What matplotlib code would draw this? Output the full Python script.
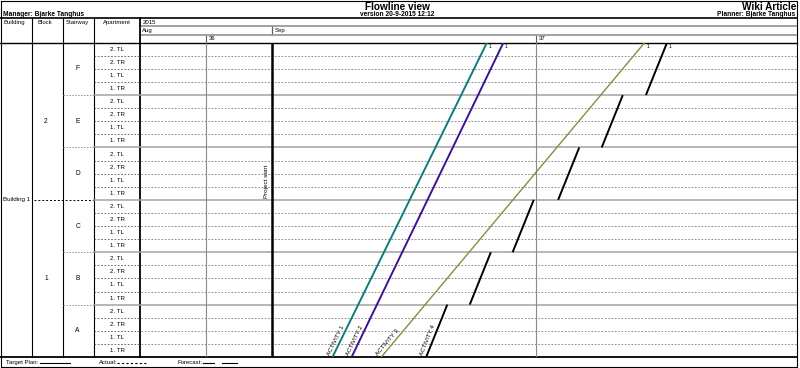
import matplotlib.pyplot as plt
import numpy as np

plt.rcParams['font.family'] = ['Liberation Sans', 'DejaVu Sans']

W, H = 800, 368

title = 'Flowline view'
version = 'version 20-9-2015 12:12'
project = 'Wiki Article'
manager = 'Manager: Bjarke Tanghus'
planner = 'Planner: Bjarke Tanghus'
columns = ['Building', 'Block', 'Stairway', 'Apartment']

building = 'Building 1'
blocks = ['1', '2']
stairways = ['A', 'B', 'C', 'D', 'E', 'F']
apartments = ['1. TR', '1. TL', '2. TR', '2. TL']  # bottom to top in a stairway

# time axis in working days, day 0 = Fri 28 Aug 2015
year_label = '2015'
months = ['Aug', 'Sep']
month_start = [0, 2]
weeks = ['36', '37']
week_start = [1, 6]
project_start = 2
n_days = 9.95

activities = ['ACTIVITY 1', 'ACTIVITY 2', 'ACTIVITY 3']
act_start = [2.91, 3.20, 3.65]
act_end = [5.25, 5.50, 7.64]
act_colors = ['#137a7c', '#3b1490', '#8b8b40']
act_widths = [1.4, 1.4, 1.0]

# activity 4 is done one stairway at a time
act4_name = 'ACTIVITY 4'
act4_start = [4.33, 4.99, 5.64, 6.33, 6.99, 7.66]
act4_length = 0.32

n_apt = len(apartments)
n_rows = len(stairways) * n_apt

# layout in pixels
body_top, body_bot = 42.7, 357.0
chart_left, chart_right = 140.5, 797.0
col_x = [31.7, 62.7, 93.7]

fig = plt.figure(figsize=(W / 100, H / 100), dpi=100)

frame = fig.add_axes([0, 0, 1, 1])
frame.set_xlim(0, W)
frame.set_ylim(H, 0)
frame.axis('off')

body_h = (body_bot - body_top) / H
ax = fig.add_axes([chart_left / W, (H - body_bot) / H,
                   (chart_right - chart_left) / W, body_h])
ax.patch.set_alpha(0)
tab = fig.add_axes([0, (H - body_bot) / H, chart_left / W, body_h], sharey=ax)
tab.patch.set_alpha(0)
hdr = fig.add_axes([chart_left / W, (H - body_top) / H,
                    (chart_right - chart_left) / W, (body_top - 18.3) / H],
                   sharex=ax)
hdr.patch.set_alpha(0)

# ---- chart body ----
ax.set_xlim(0, n_days)
ax.set_ylim(0, n_rows)
ax.axis('off')
for r in range(1, n_rows):
    if r % n_apt == 0:
        ax.axhline(r, color='#a3a3a3', lw=1.1)
    else:
        ax.axhline(r, color='#7a7a7a', lw=0.6, ls=(0, (2, 2)))
for d in week_start:
    ax.axvline(d, color='#8a8a8a', lw=0.8)
ax.axvline(project_start, color='black', lw=1.8)
ax.text(project_start - 0.06, 13.4, 'Project start', rotation=90,
        ha='right', va='center', fontsize=4.5)


def line_label(name, x0, x1, y0, y1):
    p0 = ax.transData.transform((x0, y0))
    p1 = ax.transData.transform((x1, y1))
    ang = np.degrees(np.arctan2(p1[1] - p0[1], p1[0] - p0[0]))
    ax.annotate(name, xy=(x0, y0), xytext=(-1.5, 0.5), textcoords='offset points',
                rotation=ang, rotation_mode='anchor', ha='left', va='bottom',
                fontsize=4.4)


for name, s, e, c, lw in zip(activities, act_start, act_end, act_colors, act_widths):
    ax.plot([s, e], [0, n_rows], color=c, lw=lw, solid_capstyle='butt')
    line_label(name, s, e, 0, n_rows)
    ax.annotate('1', xy=(e, n_rows), xytext=(1.2, -1), textcoords='offset points',
                ha='left', va='top', fontsize=3.5)

for k, s in enumerate(act4_start):
    ax.plot([s, s + act4_length], [k * n_apt, (k + 1) * n_apt], color='black',
            lw=1.4, solid_capstyle='butt')
line_label(act4_name, act4_start[0], act4_start[0] + act4_length, 0, n_apt)
ax.annotate('1', xy=(act4_start[-1] + act4_length, n_rows), xytext=(1.2, -1),
            textcoords='offset points', ha='left', va='top', fontsize=3.5)

# ---- left table ----
tab.set_xlim(0, chart_left)
tab.axis('off')
for r in range(1, n_rows):
    if r % (n_apt * 3) == 0:
        tab.plot([34, col_x[2]], [r, r], color='black', lw=0.7, ls=(0, (2, 2)))
        tab.plot([col_x[2], chart_left], [r, r], color='#a3a3a3', lw=1.1)
    elif r % n_apt == 0:
        tab.plot([col_x[1], col_x[2]], [r, r], color='#909090', lw=0.7,
                 ls=(0, (1.5, 1.5)))
        tab.plot([col_x[2], chart_left], [r, r], color='#a3a3a3', lw=1.1)
    else:
        tab.plot([col_x[2], chart_left], [r, r], color='#555555', lw=0.6,
                 ls=(0, (2, 2)))

for s, st in enumerate(stairways):
    tab.text(77.5, s * n_apt + n_apt / 2, st, ha='center', va='center', fontsize=4.8)
    for a, apt in enumerate(apartments):
        tab.text(117, s * n_apt + a + 0.5, apt, ha='center', va='center',
                 fontsize=4.4)
for b, blk in enumerate(blocks):
    tab.text(46, b * n_rows / 2 + n_rows / 4, blk, ha='center', va='center',
             fontsize=4.8)
tab.text(3, n_rows / 2, building, ha='left', va='center', fontsize=4.5)

# ---- time header ----
hdr.set_ylim(3, 0)
hdr.axis('off')
hdr.text(0.03, 0.5, year_label, ha='left', va='center', fontsize=4.3)
for m, d in zip(months, month_start):
    hdr.text(d + 0.03, 1.5, m, ha='left', va='center', fontsize=4.3)
    if d > 0:
        hdr.plot([d, d], [1, 2], color='#606060', lw=0.9)
for w, d in zip(weeks, week_start):
    hdr.text(d + 0.03, 2.5, w, ha='left', va='center', fontsize=4.3)
    hdr.plot([d, d], [2, 3], color='#606060', lw=0.8)
hdr.axhline(1, color='#9a9a9a', lw=1.3)
hdr.axhline(2, color='#9a9a9a', lw=1.3)

# ---- frame, titles, footer ----
frame.plot([0.8, chart_right, chart_right, 0.8, 0.8], [0.6, 0.6, 366.7, 366.7, 0.6],
           color='black', lw=0.8)
frame.plot([0, chart_right], [18.3, 18.3], color='black', lw=1.2)
frame.plot([0, chart_right], [body_top, body_top], color='black', lw=1.0)
frame.plot([0, chart_right], [body_bot, body_bot], color='black', lw=1.3)
for x in col_x:
    frame.plot([x, x], [18.3, body_bot], color='black', lw=0.8)
frame.plot([chart_left - 1, chart_left - 1], [18.3, body_bot], color='black', lw=1.3)

frame.text(397, 9.6, title, ha='center', va='baseline', fontsize=7.2,
           fontweight='bold')
frame.text(397, 15.6, version, ha='center', va='baseline', fontsize=4.8,
           fontweight='bold')
frame.text(796, 9.6, project, ha='right', va='baseline', fontsize=7.2,
           fontweight='bold')
frame.text(795, 15.6, planner, ha='right', va='baseline', fontsize=4.8,
           fontweight='bold')
frame.text(3, 15.6, manager, ha='left', va='baseline', fontsize=4.8,
           fontweight='bold')

col_text_x = [4, 38, 66, 103]
for x, c in zip(col_text_x, columns):
    frame.text(x, 22.5, c, ha='left', va='center', fontsize=4.3)

fy = 362.5
frame.text(6, fy, 'Target Plan:', ha='left', va='center', fontsize=4.3)
frame.plot([40, 70], [fy, fy], color='black', lw=0.8)
frame.text(99, fy, 'Actual:', ha='left', va='center', fontsize=4.3)
frame.plot([117, 148], [fy, fy], color='black', lw=0.8, ls=(0, (2, 2)))
frame.text(178, fy, 'Forecast:', ha='left', va='center', fontsize=4.3)
frame.plot([203, 214], [fy, fy], color='black', lw=0.8)
frame.plot([222, 237], [fy, fy], color='black', lw=0.8)

fig.savefig('out.png', dpi=100)
